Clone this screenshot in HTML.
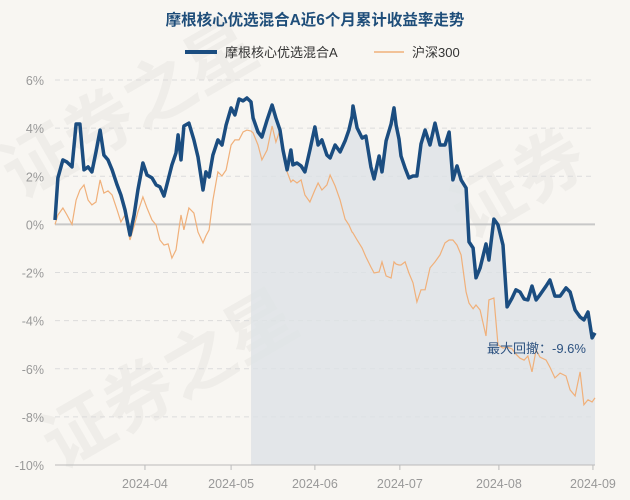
<!DOCTYPE html>
<html><head><meta charset="utf-8">
<style>
html,body{margin:0;padding:0;background:#f8f6f2;}
svg{display:block;font-family:"Liberation Sans","Noto Sans CJK SC",sans-serif;}
</style></head>
<body>
<svg id="chart" width="630" height="500" viewBox="0 0 630 500" xmlns="http://www.w3.org/2000/svg">
<rect width="630" height="500" fill="#f8f6f2"/>
<g fill="#000" fill-opacity="0.035" font-size="70" font-weight="bold">
<text x="20" y="200" transform="rotate(-30 20 200)">证券之星</text>
<text x="60" y="470" transform="rotate(-30 60 470)">证券之星</text>
<text x="470" y="240" transform="rotate(-30 470 240)">证券</text>
</g>
<text x="315" y="25" text-anchor="middle" font-size="15.5" font-weight="bold" fill="#1f4e7a">摩根核心优选混合A近6个月累计收益率走势</text>
<g>
<g>
<rect x="185" y="50" width="32" height="4" fill="#1b4d80"/>
<text x="225" y="57" font-size="13" fill="#333">摩根核心优选混合A</text></g>
<g>
<line x1="374" y1="52" x2="404" y2="52" stroke="#f0b07a" stroke-width="1.5"/>
<text x="412" y="57" font-size="13" fill="#333">沪深300</text></g>
</g>
<g id="grid"></g>
<g id="plot"></g>
<g id="axes"></g>
<text x="487" y="353" font-size="13" fill="#2d5280">最大回撤：-9.6%</text>
</svg>
<script>
const days=[0,1.0,2.7,4.1,5.8,7.2,8.5,9.9,11.3,12.6,14.0,15.4,16.7,18.1,19.5,21.2,22.5,23.9,25.6,27.0,28.3,30.0,31.4,33.1,34.5,35.8,37.2,38.6,39.9,41.3,42.0,43.0,44.0,45.7,47.4,48.8,50.5,51.5,52.6,53.9,55.6,57.0,58.4,60.1,61.4,62.8,64.2,65.5,66.9,67.6,69.3,70.6,72.4,74.1,75.4,76.8,77.8,79.2,80.5,81.2,82.6,84.0,85.3,87.0,88.7,89.8,91.1,92.8,93.9,95.6,97.3,99.0,100.3,101.4,101.7,103.1,104.8,106.1,107.8,108.9,110.6,111.6,113.0,114.7,115.7,116.4,117.4,118.1,119.5,120.8,122.2,123.5,124.9,126.3,128.0,129.7,131.4,133.1,134.5,135.8,137.2,138.6,140.3,141.3,142.7,143.7,145.1,147.1,148.1,149.8,151.2,152.9,154.3,156.0,157.3,158.7,160.1,161.4,162.8,164.2,165.5,167.6,168.9,170.6,172.4,174.4,175.8,177.5,179.2,180.5,181.9,183.3,184.3];
const fund=[0.18,1.93,2.68,2.59,2.39,4.17,4.17,2.27,2.39,2.18,3.01,3.92,2.88,2.68,2.27,1.64,1.22,0.60,-0.44,0.39,1.43,2.55,2.05,1.93,1.64,1.56,1.18,1.85,2.47,2.97,3.72,2.68,4.09,4.21,3.51,2.80,1.43,2.18,1.97,2.88,3.51,3.30,4.13,4.84,4.55,5.21,5.13,5.25,5.09,4.42,3.84,3.63,4.34,4.96,4.42,3.92,3.09,2.27,3.09,2.47,2.55,2.43,2.18,3.09,4.05,3.30,3.51,2.88,2.76,3.30,3.01,3.47,3.92,4.50,4.92,4.01,3.59,3.67,2.39,1.89,2.84,2.18,3.47,4.17,4.84,4.13,3.55,2.84,2.34,1.93,2.01,2.01,3.34,3.92,3.30,4.21,3.30,3.30,3.84,1.85,2.43,1.85,1.51,-0.73,-0.98,-2.22,-1.81,-0.81,-1.48,0.22,-0.02,-0.86,-3.43,-3.06,-2.72,-2.81,-3.10,-3.14,-2.56,-3.14,-2.93,-2.56,-2.31,-2.98,-2.98,-2.64,-2.81,-3.56,-3.85,-3.97,-3.64,-4.72,-4.51];
const hs300=[0,0.39,0.68,0.39,0,1.01,1.43,1.64,1.01,0.81,0.93,1.85,1.30,1.39,1.22,0.60,0.10,0.39,-0.65,-0.07,0.52,1.14,0.68,0.18,-0.02,-0.65,-0.86,-0.81,-1.40,-1.06,-0.44,0.39,-0.23,0.68,0.47,-0.32,-0.77,-0.48,-0.23,1.01,2.18,2.01,2.26,3.30,3.51,3.51,3.84,3.92,3.88,3.80,3.30,2.68,3.09,4.09,3.42,3.92,3.09,2.18,1.76,1.85,1.72,1.85,1.22,0.93,1.43,1.72,1.43,1.64,2.05,1.60,1.01,0.22,-0.02,-0.32,-0.36,-0.65,-0.98,-1.35,-1.77,-2.02,-1.98,-1.56,-2.14,-2.23,-1.56,-1.65,-1.69,-1.69,-1.56,-2.02,-2.43,-3.22,-2.72,-2.72,-1.81,-1.56,-1.27,-0.77,-0.65,-0.65,-0.86,-1.27,-2.81,-3.27,-3.51,-3.35,-3.56,-4.64,-3.14,-3.06,-5.01,-5.14,-5.10,-5.18,-5.39,-5.56,-5.64,-5.47,-6.13,-5.22,-5.51,-5.64,-5.93,-6.38,-6.18,-6.30,-6.88,-7.13,-6.13,-7.50,-7.29,-7.38,-7.21];
const yTicks=[6,4,2,0,-2,-4,-6,-8,-10];
const xTickLabels=["2024-04","2024-05","2024-06","2024-07","2024-08","2024-09"];
const xTickDays=[30.7,60.1,88.7,117.7,151.5,183.6];
const shadeStartDay=66.9;

const NS="http://www.w3.org/2000/svg";
const X0=55,X1=595,Y0=80,Y1=465,D0=0,D1=184.3;
const xS=d=>X0+(d-D0)/(D1-D0)*(X1-X0);
const yS=v=>Y0+(6-v)/16*(Y1-Y0);
function mk(t,a,p){const e=document.createElementNS(NS,t);for(const k in a)e.setAttribute(k,a[k]);p.appendChild(e);return e;}
const grid=document.getElementById('grid'),plot=document.getElementById('plot'),axes=document.getElementById('axes');
yTicks.forEach(v=>{
 const l=mk('line',{x1:X0,x2:X1,y1:yS(v),y2:yS(v),stroke:v===0?'#c8c8c8':'#dcdcdc','stroke-width':v===0?2:1,'stroke-dasharray':v===0?'':'5,4'},grid);
 
 
 const t=mk('text',{x:44,y:yS(v)+5,'text-anchor':'end','font-size':12.5,fill:'#999'},axes);
 t.textContent=v+'%';
 
 
});
// shaded area
let sp=[];
for(let i=0;i<days.length;i++){if(days[i]>=shadeStartDay)sp.push(xS(days[i])+','+yS(fund[i]));}
const s0=xS(shadeStartDay);
const shade=mk('polygon',{points:s0+','+yS(-10)+' '+sp.join(' ')+' '+xS(days[days.length-1])+','+yS(-10),fill:'#dde2e6','fill-opacity':0.8},plot);


const pl=(arr)=>arr.map((v,i)=>xS(days[i]).toFixed(1)+','+yS(v).toFixed(1)).join(' ');
const l2=mk('polyline',{points:pl(hs300),fill:'none',stroke:'#f0b07a','stroke-width':1.2},plot);


const l1=mk('polyline',{points:pl(fund),fill:'none',stroke:'#1b4d80','stroke-width':3.5,'stroke-linejoin':'round'},plot);


const ax=mk('line',{x1:X0,x2:X1,y1:Y1,y2:Y1,stroke:'#bbb','stroke-width':1},axes);


xTickLabels.forEach((lab,i)=>{
 const x=xS(xTickDays[i]);
 const tk=mk('line',{x1:x,x2:x,y1:Y1,y2:Y1+5,stroke:'#bbb'},axes);
 
 
 const t=mk('text',{x:x,y:Y1+23,'text-anchor':'middle','font-size':12.5,fill:'#999'},axes);
 t.textContent=lab;
 
 
});
</script>
</body></html>
